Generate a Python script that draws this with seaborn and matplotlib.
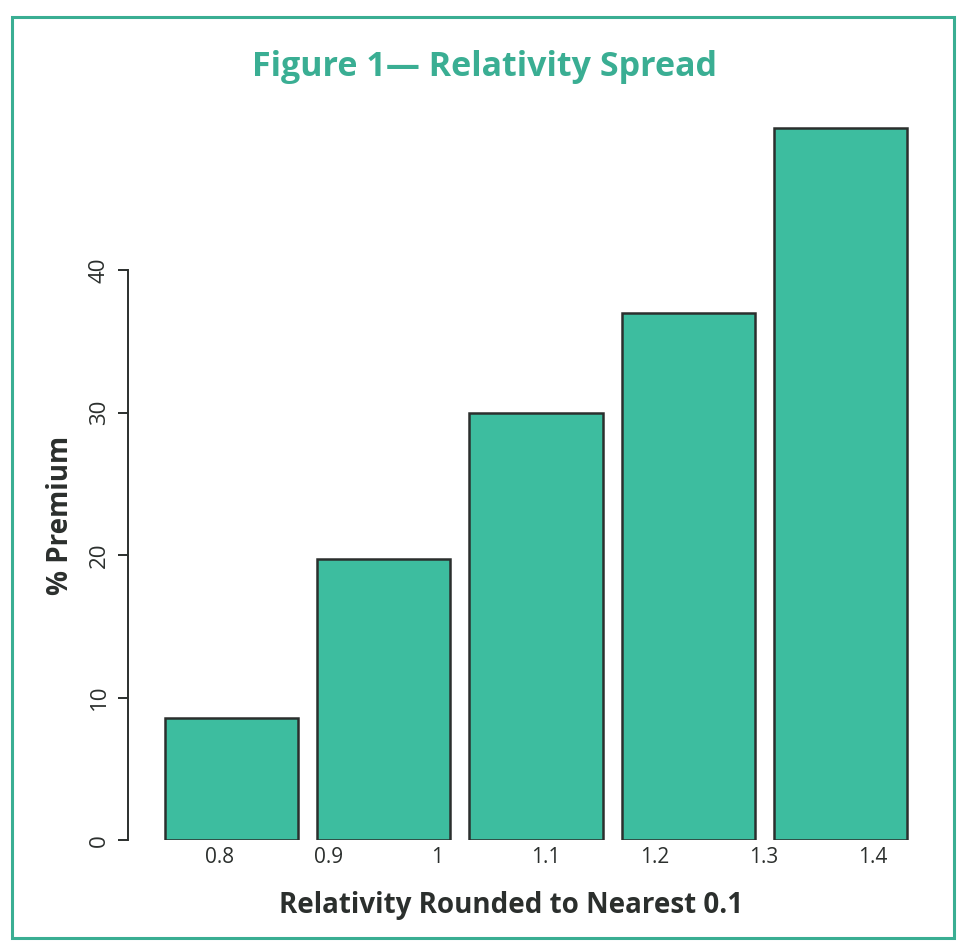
import matplotlib
matplotlib.use("Agg")
import matplotlib.pyplot as plt
import seaborn as sns
import pandas as pd
import numpy as np
from matplotlib.patches import Rectangle

# Data
bar_groups = ["0.8", "0.9-1", "1.1", "1.2-1.3", "1.4"]
premium_pct = [8.6, 19.7, 30.0, 37.0, 50.0]
tick_labels = ["0.8", "0.9", "1", "1.1", "1.2", "1.3", "1.4"]
y_ticks = [0, 10, 20, 30, 40]

TEAL = "#3dbd9f"
TITLE_TEAL = "#3aae93"
DARK = "#2b2f2d"

sns.set_theme(style="white")
plt.rcParams['font.family'] = ['Open Sans', 'DejaVu Sans']

fig = plt.figure(figsize=(9.7, 9.44), dpi=100)
ax = fig.add_axes([0.1526, 0.110, 0.80, 0.770])

df = pd.DataFrame({"group": bar_groups, "premium": premium_pct})
sns.barplot(data=df, x="group", y="premium", order=bar_groups, color=TEAL,
            saturation=1, width=0.875, edgecolor=DARK, linewidth=1.8, ax=ax)

ax.set_xlim(-0.55, 4.55)
ax.set_ylim(0, 51)

# spines: R style
for s in ["top", "right", "bottom"]:
    ax.spines[s].set_visible(False)
ax.spines["left"].set_position(("outward", 14.4))
ax.spines["left"].set_bounds(0, 40)
ax.spines["left"].set_color(DARK)
ax.spines["left"].set_linewidth(1.4)

ax.set_yticks(y_ticks)
ax.set_yticklabels([str(v) for v in y_ticks], rotation=90, va="center",
                   fontsize=16, color=DARK)
ax.tick_params(axis="y", left=True, length=7, width=1.4, color=DARK, pad=6)

n = len(tick_labels)
tick_pos = [-0.08 + i * 0.715 for i in range(n)]
ax.set_xticks(tick_pos)
ax.set_xticklabels(tick_labels, fontsize=15, color=DARK)
ax.tick_params(axis="x", bottom=False, length=0, pad=5)

ax.set_xlabel("Relativity Rounded to Nearest 0.1", fontsize=20, fontweight="bold",
              color=DARK)
ax.xaxis.set_label_coords(0.468, -0.07)
ax.set_ylabel("% Premium", fontsize=20, fontweight="bold", color=DARK)
ax.yaxis.set_label_coords(-0.094, 0.447)

fig.text(0.50, 0.929, "Figure 1\u2014 Relativity Spread", ha="center", va="center",
         fontsize=24.5, fontweight="bold", color=TITLE_TEAL)

frame = Rectangle((0.012, 0.006), 0.972, 0.976, transform=fig.transFigure,
                  fill=False, edgecolor=TITLE_TEAL, linewidth=2.2)
fig.patches.append(frame)

fig.savefig("out.png", dpi=100, facecolor="white")
